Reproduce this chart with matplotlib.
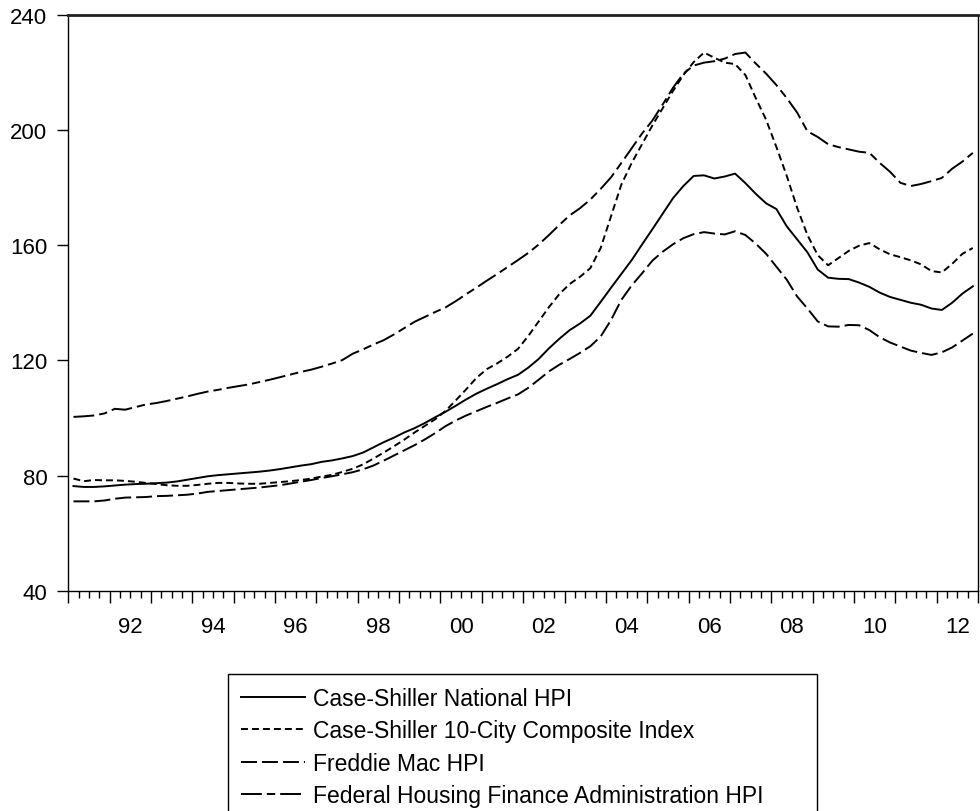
import matplotlib
matplotlib.use('Agg')
import numpy as np
import pandas as pd
import matplotlib.pyplot as plt

plt.rcParams['font.family'] = ['Liberation Sans', 'DejaVu Sans']
plt.rcParams['lines.scale_dashes'] = False

# quarterly observations 1991Q1 - 2012Q4
quarters = pd.period_range('1991Q1', '2012Q4', freq='Q')

cs_national = [
    76.4, 76.1, 76.1, 76.3, 76.6, 76.9, 77.1, 77.2, 77.4, 77.6, 78.0, 78.6,
    79.2, 79.8, 80.2, 80.5, 80.8, 81.1, 81.4, 81.8, 82.3, 82.9, 83.5, 84.0,
    84.8, 85.3, 86.0, 86.8, 88.0, 89.8, 91.6, 93.2, 95.0, 96.5, 98.3, 100.3,
    102.2, 104.3, 106.5, 108.5, 110.2, 111.8, 113.5, 115.0, 117.5, 120.5, 124.2, 127.5,
    130.5, 132.8, 135.5, 140.3, 145.2, 150.0, 154.8, 160.2, 165.5, 170.9, 176.3, 180.5,
    184.0, 184.2, 183.1, 183.8, 184.8, 181.5, 177.8, 174.5, 172.5, 166.5, 162.0, 157.5,
    151.5, 148.7, 148.3, 148.2, 147.0, 145.5, 143.5, 142.0, 141.0, 140.0, 139.3, 138.0,
    137.5, 140.0, 143.2, 145.7,
]

cs_10city = [
    79.0, 78.1, 78.5, 78.4, 78.4, 78.2, 77.9, 77.5, 77.1, 76.7, 76.5, 76.5,
    76.8, 77.2, 77.5, 77.5, 77.3, 77.2, 77.2, 77.5, 77.8, 78.1, 78.5, 79.0,
    79.7, 80.3, 81.3, 82.4, 83.9, 85.9, 88.0, 90.2, 92.5, 95.0, 97.3, 99.6,
    102.5, 106.2, 110.0, 114.0, 117.0, 119.0, 121.3, 124.0, 128.5, 133.5, 138.5, 143.0,
    146.5, 149.0, 152.0, 159.0, 170.0, 181.0, 188.5, 195.0, 201.5, 207.5, 213.5, 219.0,
    223.5, 226.8, 225.0, 223.3, 222.8, 219.0, 211.0, 203.5, 194.0, 184.0, 173.0, 163.5,
    156.5, 153.0, 155.5, 158.0, 159.8, 160.7, 158.5, 156.8, 155.8, 154.7, 153.3, 151.0,
    150.5, 153.5, 157.0, 159.0,
]

freddie_mac = [
    71.1, 71.1, 71.1, 71.4, 72.0, 72.4, 72.5, 72.6, 72.9, 73.0, 73.2, 73.4,
    73.8, 74.4, 74.7, 75.0, 75.3, 75.6, 75.9, 76.3, 76.7, 77.3, 77.9, 78.5,
    79.2, 79.8, 80.5, 81.2, 82.2, 83.5, 85.2, 87.0, 88.8, 90.6, 92.6, 94.8,
    97.2, 99.2, 100.9, 102.4, 103.9, 105.3, 106.8, 108.2, 110.5, 113.3, 116.2, 118.5,
    120.5, 122.6, 124.9, 128.3, 134.0, 141.0, 146.0, 150.2, 154.6, 157.7, 160.3, 162.4,
    163.8, 164.5, 164.0, 163.7, 164.8, 163.5, 160.5, 157.0, 152.5, 148.0, 142.2, 138.0,
    133.5, 131.8, 131.7, 132.3, 132.2, 130.5, 128.0, 126.2, 124.8, 123.4, 122.6, 121.9,
    122.8, 124.5, 126.9, 129.3,
]

fhfa = [
    100.4, 100.6, 100.9, 101.6, 103.2, 102.9, 103.8, 104.7, 105.2, 105.9, 106.7, 107.5,
    108.4, 109.2, 109.8, 110.5, 111.1, 111.7, 112.5, 113.3, 114.2, 115.1, 116.0, 116.8,
    117.8, 118.9, 120.1, 122.3, 123.8, 125.5, 127.0, 129.0, 131.2, 133.4, 135.1, 136.8,
    138.4, 140.6, 143.0, 145.3, 147.7, 150.0, 152.4, 154.8, 157.3, 160.2, 163.5, 167.0,
    170.3, 172.8, 175.8, 179.5, 183.5, 188.5, 193.6, 198.7, 203.2, 208.8, 214.6, 219.5,
    222.3, 223.3, 223.8, 224.7, 226.3, 226.8, 223.0, 219.5, 215.5, 211.0, 206.0, 199.5,
    197.5, 195.0, 194.0, 193.2, 192.4, 192.0, 188.5, 185.4, 181.6, 180.5, 181.2, 182.2,
    183.3, 186.5, 189.0, 192.0,
]

series_labels = [
    'Case-Shiller National HPI',
    'Case-Shiller 10-City Composite Index',
    'Freddie Mac HPI',
    'Federal Housing Finance Administration HPI',
]
year_labels = ['92', '94', '96', '98', '00', '02', '04', '06', '08', '10', '12']

# x position = middle of each quarter
x = quarters.year + (quarters.quarter - 1) / 4 + 0.125

fig = plt.figure(figsize=(9.8, 8.12), dpi=100)
ax = fig.add_axes([68.3 / 980, 220 / 812, 909.7 / 980, 576.5 / 812])

lw = 1.4
ax.plot(x, cs_national, color='black', lw=lw, label=series_labels[0])
ax.plot(x, cs_10city, color='black', lw=lw, dashes=(5, 2.9), label=series_labels[1])
ax.plot(x, freddie_mac, color='black', lw=lw, dashes=(11.5, 3.6), label=series_labels[2])
ax.plot(x, fhfa, color='black', lw=lw, dashes=(15, 3.6, 6, 3.6), label=series_labels[3])

ax.set_xlim(1991, 2013)
ax.set_ylim(40, 240)
ax.set_yticks(np.arange(40, 241, 40))
ax.tick_params(axis='y', direction='out', length=8, width=1, pad=7, labelsize=16)

# yearly major ticks, quarterly minor ticks, labels in the middle of the year
ax.set_xticks(np.arange(1991, 2014, 1))
ax.set_xticklabels([])
ax.set_xticks(np.arange(1991, 2013.01, 0.25), minor=True)
ax.tick_params(axis='x', which='major', direction='out', length=8.4, width=1)
ax.tick_params(axis='x', which='minor', direction='out', length=4.8, width=1)

sec = ax.secondary_xaxis('bottom')
sec.set_xticks(np.arange(1992.5, 2013, 2), year_labels)
sec.tick_params(length=0, pad=18, labelsize=16)
sec.spines['bottom'].set_visible(False)

for side in ['left', 'right', 'bottom']:
    ax.spines[side].set_linewidth(1)
    ax.spines[side].set_color('black')
ax.spines['top'].set_linewidth(2)
ax.spines['top'].set_color('#222222')

# legend box below the plot, stretched to the reference width
leg = fig.legend(loc='upper left',
                 bbox_to_anchor=(228 / 980, 1 - 811 / 812, 589 / 980, 136 / 812),
                 mode='expand', borderaxespad=0, fontsize=16.5, frameon=True,
                 fancybox=False, framealpha=1, edgecolor='black', handlelength=2.8,
                 handletextpad=0.35, labelspacing=0.42, borderpad=0.55)
leg.get_frame().set_linewidth(1)

fig.savefig('out.png', dpi=100)
